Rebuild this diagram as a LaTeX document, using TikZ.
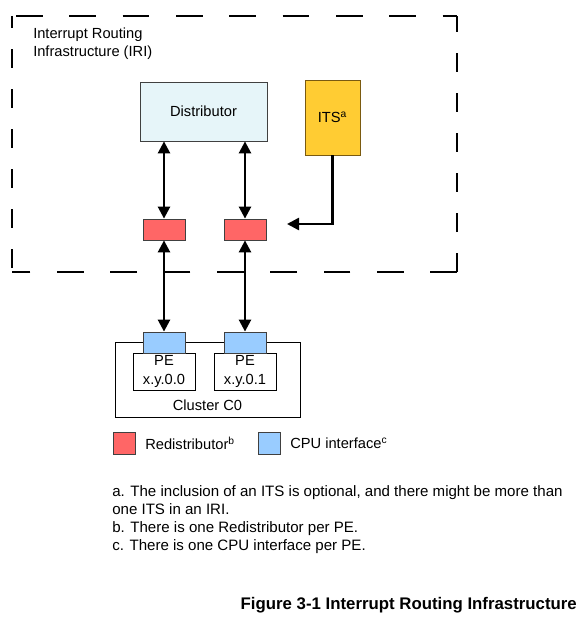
\documentclass[tikz,border=0pt]{standalone}
\usepackage{fontspec}
\setmainfont{Liberation Sans}
\usetikzlibrary{arrows.meta}
\definecolor{distfill}{HTML}{E6F5F9}
\definecolor{itsfill}{HTML}{FFCC33}
\definecolor{itsdraw}{HTML}{7A5A10}
\definecolor{redfill}{HTML}{FF6666}
\definecolor{bluefill}{HTML}{99CCFF}
\definecolor{boxdraw}{HTML}{404040}
\begin{document}
\begin{tikzpicture}[x=0.75pt,y=-0.75pt,
  every node/.style={font=\fontsize{11}{13}\selectfont, inner sep=0pt},
  hdash/.style={line width=1.5pt, dash pattern=on 20pt off 20pt},
  vdash/.style={line width=1.5pt, dash pattern=on 14pt off 16pt},
  arr/.style={line width=1.9pt, -{Triangle[length=9pt,width=9pt]}},
  darr/.style={line width=1.9pt, {Triangle[length=9pt,width=9pt]}-{Triangle[length=9pt,width=9pt]}},
  smallbox/.style={draw=boxdraw, line width=0.6pt, minimum width=31.5pt, minimum height=15.75pt},
  redbox/.style={smallbox, fill=redfill},
  bluebox/.style={smallbox, fill=bluefill},
  pebox/.style={draw=black, fill=white, line width=0.6pt, minimum width=46.5pt, minimum height=27.75pt, align=center, font=\fontsize{11}{14}\selectfont},
  legbox/.style={draw=boxdraw, line width=0.6pt, minimum width=16.5pt, minimum height=16.5pt}
]
\useasboundingbox (0,0) rectangle (582,620);

% dashed IRI border
\coordinate (tl) at (12,16);
\coordinate (tr) at (457,16);
\coordinate (bl) at (12,272);
\coordinate (br) at (457,272);
\draw[hdash, dash phase=-3pt] (tl) -- (tr);
\draw[hdash] (br) -- (bl);
\draw[vdash, dash phase=5pt] (tl) -- (bl);
\draw[vdash] (br) -- (tr);

\node[anchor=north west, align=left, font=\fontsize{11}{13}\selectfont] (iri) at (33,28)
  {Interrupt Routing\\Infrastructure (IRI)};

% Distributor and ITS
\node[draw=boxdraw, fill=distfill, line width=0.6pt, minimum width=95.25pt, minimum height=44.25pt] (dist) at (203.5,111.5) {Distributor};
\node[draw=itsdraw, fill=itsfill, line width=0.6pt, minimum width=41.25pt, minimum height=56.25pt] (its) at (332.5,117.5) {ITS\textsuperscript{a}};

% Redistributors
\node[redbox] (r1) at (164,229.5) {};
\node[redbox] (r2) at (245,229.5) {};

% Cluster
\node[draw=black, line width=0.6pt, minimum width=138.75pt, minimum height=56.25pt] (cluster) at (207.5,379.5) {};
\node (clabel) at (207.5,405) {Cluster C0};
\node[pebox] (pe1) at (164,371.5) {PE\\x.y.0.0};
\node[pebox] (pe2) at (245,371.5) {PE\\x.y.0.1};
\node[bluebox] (c1) at (164,342.5) {};
\node[bluebox] (c2) at (245,342.5) {};

% Arrows
\draw[darr] (r1 |- dist.south) -- (r1.north);
\draw[darr] (r2 |- dist.south) -- (r2.north);
\draw[darr] (r1.south) -- (c1.north);
\draw[darr] (r2.south) -- (c2.north);
\coordinate (itsend) at (287,224);
\draw[arr] (its.south) |- (itsend);

% Legend
\node[legbox, fill=redfill] (lr) at (124,443) {};
\node[anchor=west] (lrt) at (145,443) {Redistributor\textsuperscript{b}};
\node[legbox, fill=bluefill] (lb) at (269,443) {};
\node[anchor=west] (lbt) at (290,443) {CPU interface\textsuperscript{c}};

% Footnotes
\node[anchor=north west, align=left, font=\fontsize{11.3}{13.6}\selectfont] (notes) at (112,485)
  {a. The inclusion of an ITS is optional, and there might be more than\\
   one ITS in an IRI.\\
   b. There is one Redistributor per PE.\\
   c. There is one CPU interface per PE.};

% Caption
\node[anchor=east, font=\bfseries\fontsize{12.6}{15}\selectfont] (cap) at (577,605) {Figure 3-1 Interrupt Routing Infrastructure};
\end{tikzpicture}
\end{document}
